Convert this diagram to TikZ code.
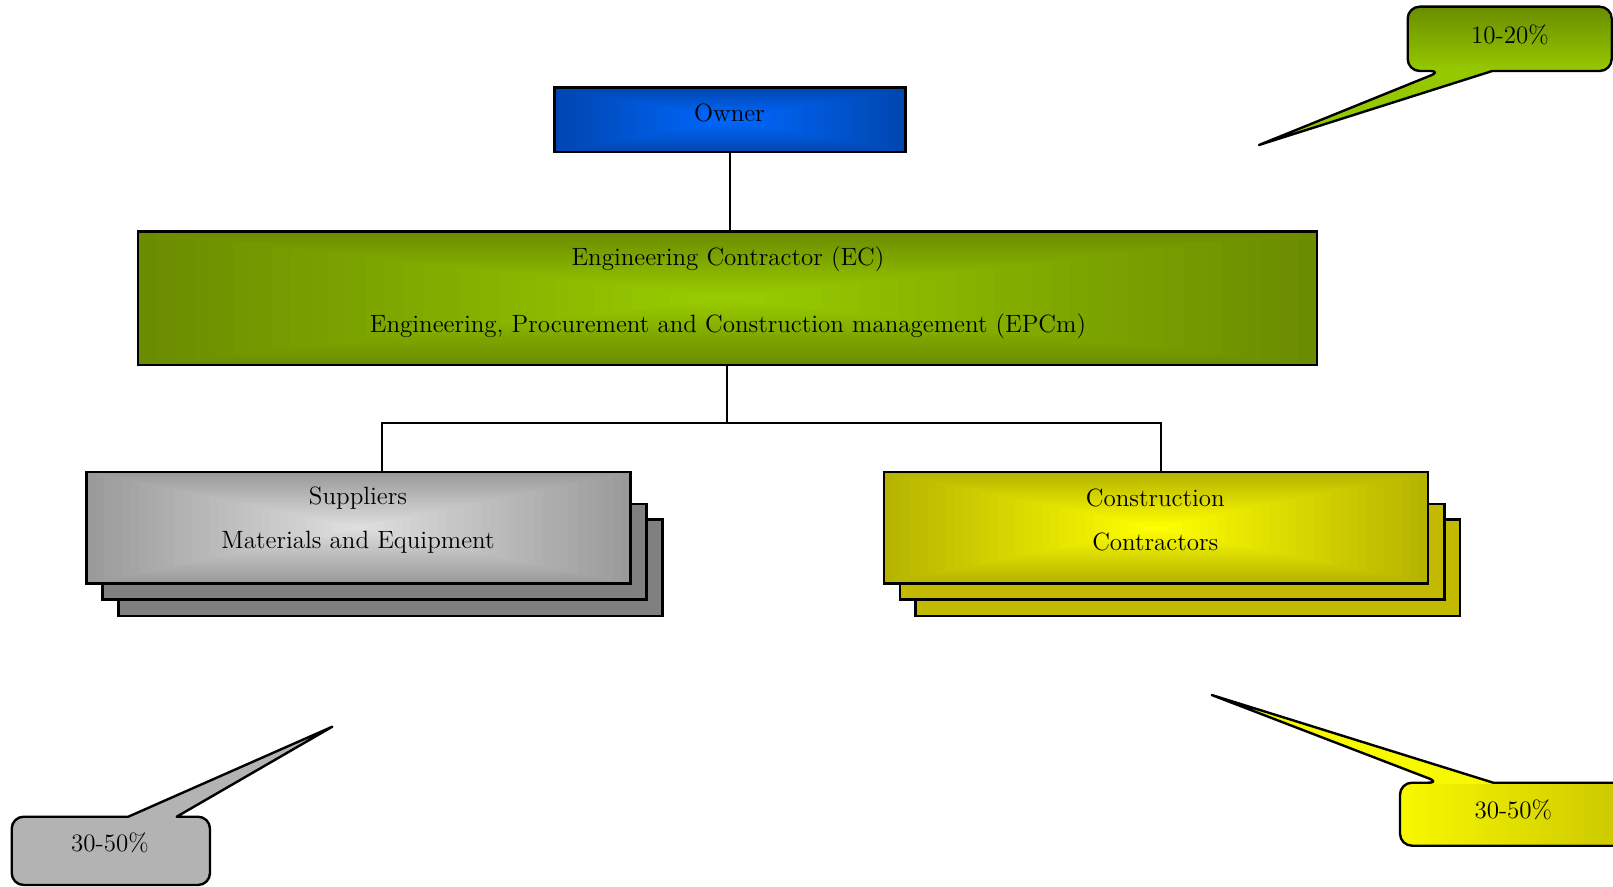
\documentclass[tikz,border=0pt]{standalone}
\usetikzlibrary{calc}
\definecolor{ownerEdge}{HTML}{0046B0}
\definecolor{ownerMid}{HTML}{0068FF}
\definecolor{ecEdge}{HTML}{6A8C00}
\definecolor{ecMid}{HTML}{99CC00}
\definecolor{supEdge}{HTML}{9A9A9A}
\definecolor{supMid}{HTML}{DEDEDE}
\definecolor{supBack}{HTML}{808080}
\definecolor{conEdge}{HTML}{B5B300}
\definecolor{conMid}{HTML}{FFFF00}
\definecolor{conBack}{HTML}{C2BA00}
\definecolor{trDark}{HTML}{6A8E00}
\definecolor{trLight}{HTML}{96C800}
\definecolor{blGray}{HTML}{B3B3B3}
\definecolor{brBright}{HTML}{F8F800}
\definecolor{brDark}{HTML}{CCC800}
\tikzset{
  rectgrad/.style 2 args={path picture={
    \foreach \i in {0,...,30}{
      \pgfmathsetmacro\f{1-\i/31}
      \pgfmathsetmacro\p{100*\i/30}
      \fill[#2!\p!#1] ($(path picture bounding box.center)!\f!(path picture bounding box.south west)$) rectangle ($(path picture bounding box.center)!\f!(path picture bounding box.north east)$);
    }}},
  box/.style={draw=black, line width=1.2pt, inner sep=0pt},
  backbox/.style={box, fill=#1},
  conn/.style={draw=black, line width=1pt},
  lbl/.style={inner sep=0pt, font=\fontsize{12.5}{15}\selectfont},
  callout/.style={draw=black, line width=1.2pt, line join=round},
}
\begin{document}
\begin{tikzpicture}[x=0.5pt, y=-0.5pt]
\useasboundingbox (0,0) rectangle (1613,887);

% main boxes
\node[box, rectgrad={ownerEdge}{ownerMid}, minimum width=175.4pt, minimum height=32.4pt] (owner) at (729.9,119.8) {};
\node[box, rectgrad={ecEdge}{ecMid}, minimum width=589.5pt, minimum height=66.9pt] (ec) at (727.3,298.4) {};

% supplier stack
\node[backbox=supBack, minimum width=272.1pt, minimum height=48.4pt] (supb3) at (390.4,567.9) {};
\node[backbox=supBack, minimum width=272.1pt, minimum height=47.8pt] (supb2) at (374.5,551.9) {};
\node[box, rectgrad={supEdge}{supMid}, minimum width=272.1pt, minimum height=55.6pt] (sup) at (358.5,527.8) {};

% construction stack
\node[backbox=conBack, minimum width=272.1pt, minimum height=48.4pt] (conb3) at (1187.6,567.9) {};
\node[backbox=conBack, minimum width=272.1pt, minimum height=47.8pt] (conb2) at (1172.2,551.9) {};
\node[box, rectgrad={conEdge}{conMid}, minimum width=272.1pt, minimum height=55.6pt] (con) at (1155.8,527.8) {};

% texts
\node[lbl] (townr) at (729.4,113.2) {Owner};
\node[lbl] (tec1) at (728,259) {Engineering Contractor (EC)};
\node[lbl] (tec2) at (728,326) {Engineering, Procurement and Construction management (EPCm)};
\node[lbl] (tsup1) at (358,498.5) {Suppliers};
\node[lbl] (tsup2) at (358,542) {Materials and Equipment};
\node[lbl] (tcon1) at (1155.3,497.5) {Construction};
\node[lbl] (tcon2) at (1155.3,541.5) {Contractors};

% connectors
\coordinate (jl) at (381.6,422.8);
\coordinate (jr) at (1161.4,422.8);
\draw[conn] (owner.south) -- (owner.south |- ec.north);
\draw[conn] (ec.south) -- (ec.south |- jl) -- (jl) -- (jl |- sup.north);
\draw[conn] (ec.south |- jr) -- (jr) -- (jr |- con.north);

% callout top right
\coordinate (trtip) at (1259,145);
\fill[trLight] (trtip) -- (1492.3,71) [rounded corners=6pt] -- (1611.7,71) -- (1611.7,6.7) -- (1407.7,6.7) -- (1407.7,71) -- (1441.7,71) [sharp corners] -- cycle;
\shade[top color=trDark, bottom color=trLight, rounded corners=5pt] (1409,8) rectangle (1610,69.5);
\draw[callout] (trtip) -- (1492.3,71) [rounded corners=6pt] -- (1611.7,71) -- (1611.7,6.7) -- (1407.7,6.7) -- (1407.7,71) -- (1441.7,71) [sharp corners] -- cycle;
\node[lbl] (ttr) at (1510,35) {10-20\%};

% callout bottom left
\coordinate (bltip) at (332.3,726.7);
\filldraw[callout, fill=blGray] (bltip) -- (176.7,816.7) [rounded corners=6pt] -- (210,816.7) -- (210,885) -- (11.7,885) -- (11.7,816.7) [sharp corners] -- (128.3,816.7) -- cycle;
\node[lbl] (tbl) at (110,843.3) {30-50\%};

% callout bottom right
\coordinate (brtip) at (1211.7,695);
\fill[brBright] (brtip) -- (1493.3,782.7) [rounded corners=6pt] -- (1625,782.7) -- (1625,845.7) -- (1400,845.7) -- (1400,782.7) -- (1440,782.7) [sharp corners] -- cycle;
\shade[left color=brBright, right color=brDark, rounded corners=5pt] (1401.5,784) rectangle (1623,844.3);
\draw[callout] (brtip) -- (1493.3,782.7) [rounded corners=6pt] -- (1625,782.7) -- (1625,845.7) -- (1400,845.7) -- (1400,782.7) -- (1440,782.7) [sharp corners] -- cycle;
\node[lbl] (tbr) at (1513.3,810) {30-50\%};
\end{tikzpicture}
\end{document}
